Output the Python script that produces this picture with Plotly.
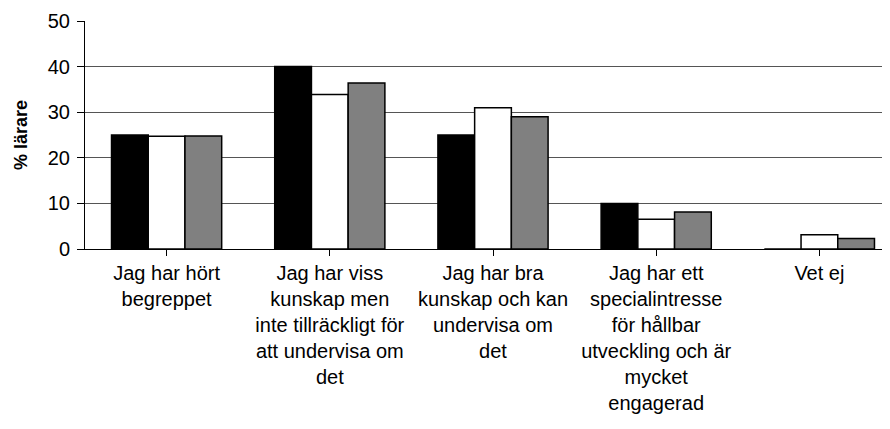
import plotly.graph_objects as go

categories = [
    "Jag har hört<br>begreppet",
    "Jag har viss<br>kunskap men<br>inte tillräckligt för<br>att undervisa om<br>det",
    "Jag har bra<br>kunskap och kan<br>undervisa om<br>det",
    "Jag har ett<br>specialintresse<br>för hållbar<br>utveckling och är<br>mycket<br>engagerad",
    "Vet ej",
]
series_a = [25, 40, 25, 10, 0]
series_b = [24.7, 33.9, 31, 6.5, 3.1]
series_c = [24.8, 36.4, 29, 8.1, 2.3]
series_colors = ["#000000", "#ffffff", "#808080"]
y_ticks = [0, 10, 20, 30, 40, 50]

x_idx = list(range(len(categories)))

fig = go.Figure()
for vals, col in zip([series_a, series_b, series_c], series_colors):
    fig.add_trace(go.Bar(
        x=x_idx, y=vals,
        marker=dict(color=col, line=dict(color="#000000", width=1.5)),
        showlegend=False,
    ))

font_family = "Liberation Sans, Arial, sans-serif"

# page body has an 8px default margin; size the figure to fit the window
fig.update_layout(
    width=882, height=421,
    margin=dict(l=77, r=0, t=13, b=180),
    paper_bgcolor="white", plot_bgcolor="white",
    barmode="group", bargap=0.325, bargroupgap=0,
    font=dict(family=font_family, color="#000000"),
)
fig.update_xaxes(
    range=[-0.5, -0.5 + 805 / 163.2],
    tickmode="array", tickvals=x_idx, ticktext=categories,
    tickson="boundaries", ticks="outside", ticklen=6, tickcolor="#000000",
    tickfont=dict(size=20, family=font_family),
    showline=True, linecolor="#000000", linewidth=1,
    showgrid=False, zeroline=False, tickangle=0, automargin=False,
)
fig.update_yaxes(
    range=[0, 50],
    tickmode="array", tickvals=y_ticks,
    ticks="outside", ticklen=7, tickcolor="#000000",
    tickfont=dict(size=20, family=font_family), ticklabelstandoff=3,
    showline=True, linecolor="#000000", linewidth=1,
    showgrid=True, gridcolor="#555555", gridwidth=1,
    zeroline=False, automargin=False,
    title=dict(text="<b>% lärare</b>", font=dict(size=18, family=font_family), standoff=15),
)

fig.write_html("out.html")
